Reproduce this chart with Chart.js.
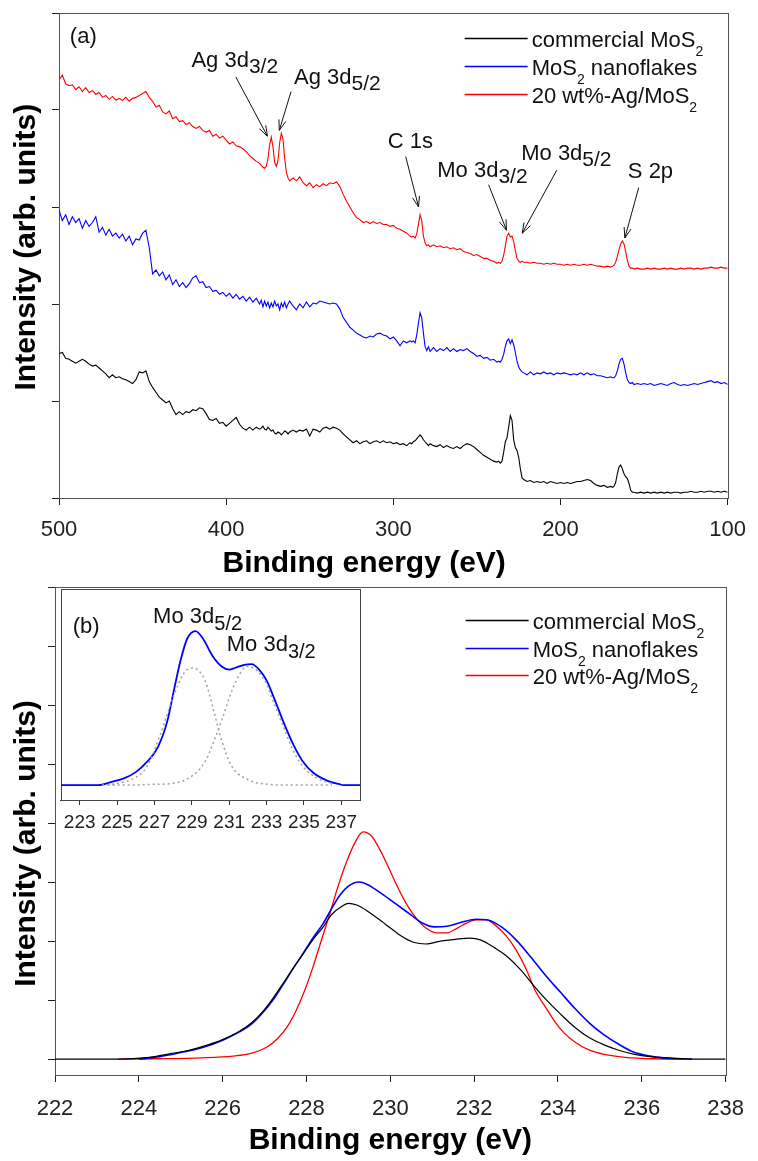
<!DOCTYPE html>
<html>
<head>
<meta charset="utf-8">
<title>XPS spectra of MoS2 samples</title>
<script src="https://cdn.jsdelivr.net/npm/chart.js@4.4.0/dist/chart.umd.min.js"></script>
<style>
  html, body { margin: 0; padding: 0; background: #fff; }
  #figure { position: relative; width: 758px; height: 1161px; }
  #figure canvas { position: absolute; }
  #survey { left: 0; top: 0; }
  #mo3d { left: 0; top: 580px; }
  #inset { left: 58px; top: 589px; }
</style>
</head>
<body>
<div id="figure">
  <canvas id="survey" width="758" height="580"></canvas>
  <canvas id="mo3d" width="758" height="581"></canvas>
  <canvas id="inset" width="305" height="250"></canvas>
</div>
<script>
const FONT = '"Liberation Sans", Arial, Helvetica, sans-serif';

// ---------- (a) survey scan ----------
const surveyEnergy = [
  500, 498, 496, 494, 492, 490, 488, 486, 484, 482,
  480, 478, 476, 474, 472, 470, 468, 466, 464, 462,
  460, 458, 456, 454, 452, 450, 448, 446, 444, 442,
  440, 438, 436, 434, 432, 430, 428, 426, 424, 422,
  420, 418, 416, 414, 412, 410, 408, 406, 404, 402,
  400, 398, 396, 394, 392, 390, 388, 386, 384, 382,
  380,
  379, 378, 377, 376, 375, 374, 373, 372, 371, 370, 369, 368, 367, 366, 365, 364, 363, 362,
  360, 358, 356, 354, 352, 350, 348, 346, 344, 342,
  340, 338, 336, 334, 332, 330, 328, 326, 324, 322,
  320, 318, 316, 314, 312, 310, 308, 306, 304, 302,
  300, 298, 296, 294, 292, 290,
  289, 288, 287, 286, 285, 284, 283, 282, 281, 280, 279, 278,
  276, 274, 272, 270, 268, 266, 264, 262, 260, 258,
  256, 254, 252, 250, 248, 246, 244, 242, 240, 238,
  237, 236, 235, 234, 233, 232, 231, 230, 229, 228, 227, 226, 225, 224, 223, 222,
  220, 218, 216, 214, 212, 210, 208, 206, 204, 202,
  200, 198, 196, 194, 192, 190, 188, 186, 184, 182,
  180, 178, 176, 174, 172, 170,
  169, 168, 167, 166, 165, 164, 163, 162, 161, 160, 159, 158, 157, 156,
  154, 152, 150, 148, 146, 144, 142, 140, 138, 136,
  134, 132, 130, 128, 126, 124, 122, 120, 118, 116,
  114, 112, 110, 108, 106, 104, 102, 100
];

const surveyCommercial = [
  1.49, 1.50, 1.44, 1.43, 1.41, 1.39, 1.41, 1.43, 1.41, 1.38,
  1.36, 1.37, 1.34, 1.31, 1.28, 1.24, 1.27, 1.24, 1.25, 1.23,
  1.22, 1.20, 1.18, 1.22, 1.30, 1.29, 1.31, 1.20, 1.14, 1.09,
  1.04, 1.01, 0.98, 1.00, 0.92, 0.86, 0.89, 0.86, 0.89, 0.88,
  0.91, 0.90, 0.93, 0.92, 0.87, 0.81, 0.80, 0.82, 0.77, 0.78,
  0.74, 0.77, 0.80, 0.83, 0.76, 0.72, 0.70, 0.73, 0.70, 0.73,
  0.71,
  0.72, 0.74, 0.71, 0.70, 0.73, 0.71, 0.69, 0.70, 0.67, 0.66, 0.68, 0.67, 0.65, 0.67, 0.69, 0.68, 0.66, 0.68,
  0.70, 0.68, 0.70, 0.69, 0.71, 0.64, 0.71, 0.70, 0.68, 0.72,
  0.73, 0.71, 0.73, 0.72, 0.70, 0.66, 0.63, 0.60, 0.57, 0.59,
  0.56, 0.58, 0.59, 0.56, 0.58, 0.59, 0.57, 0.59, 0.57, 0.58,
  0.56, 0.57, 0.55, 0.56, 0.54, 0.57,
  0.56, 0.58, 0.59, 0.61, 0.63, 0.65, 0.63, 0.60, 0.58, 0.56, 0.54, 0.56,
  0.54, 0.53, 0.55, 0.52, 0.54, 0.52, 0.51, 0.53, 0.51, 0.54,
  0.56, 0.55, 0.53, 0.50, 0.47, 0.44, 0.42, 0.40, 0.38, 0.37,
  0.38, 0.36, 0.38, 0.47, 0.58, 0.62, 0.73, 0.85, 0.80, 0.60, 0.52, 0.49, 0.42, 0.30, 0.21, 0.19,
  0.17, 0.18, 0.16, 0.17, 0.16, 0.17, 0.15, 0.17, 0.16, 0.15,
  0.16, 0.15, 0.16, 0.15, 0.16, 0.17, 0.17, 0.18, 0.19, 0.18,
  0.15, 0.13, 0.12, 0.13, 0.11, 0.12,
  0.11, 0.12, 0.16, 0.25, 0.32, 0.34, 0.30, 0.25, 0.22, 0.20, 0.15, 0.08, 0.06, 0.06,
  0.05, 0.06, 0.05, 0.06, 0.05, 0.06, 0.05, 0.06, 0.05, 0.06,
  0.05, 0.06, 0.06, 0.05, 0.06, 0.06, 0.07, 0.06, 0.06, 0.07,
  0.06, 0.07, 0.07, 0.06, 0.07, 0.06, 0.07, 0.06
];

const surveyNanoflakes = [
  2.97, 2.86, 2.92, 2.82, 2.90, 2.84, 2.88, 2.78, 2.86, 2.80,
  2.84, 2.90, 2.74, 2.79, 2.71, 2.77, 2.70, 2.73, 2.68, 2.72,
  2.65, 2.70, 2.61, 2.67, 2.66, 2.73, 2.76, 2.58, 2.31, 2.35,
  2.29, 2.33, 2.25, 2.30, 2.20, 2.25, 2.18, 2.22, 2.17, 2.21,
  2.27, 2.29, 2.22, 2.23, 2.17, 2.18, 2.13, 2.14, 2.10, 2.12,
  2.08, 2.11, 2.06, 2.10, 2.05, 2.08, 2.03, 2.07, 2.02, 2.06,
  2.00,
  2.04, 1.97, 2.03, 1.98, 2.02, 1.96, 2.01, 1.97, 2.03, 1.98, 2.00, 1.94, 2.01, 1.97, 2.02, 1.96, 2.00, 2.03,
  1.98, 1.94, 2.00, 1.96, 2.02, 1.97, 2.01, 2.00, 2.03, 2.02,
  2.01, 2.00, 2.01, 2.00, 1.95, 1.86, 1.81, 1.76, 1.73, 1.70,
  1.68, 1.66, 1.65, 1.67, 1.66, 1.69, 1.70, 1.68, 1.67, 1.64,
  1.66, 1.62, 1.57, 1.62, 1.60, 1.62,
  1.61, 1.62, 1.60, 1.68, 1.80, 1.91, 1.86, 1.70, 1.56, 1.52, 1.56, 1.51,
  1.55, 1.51, 1.54, 1.52, 1.55, 1.51, 1.54, 1.51, 1.53, 1.52,
  1.54, 1.51, 1.49, 1.46, 1.47, 1.44, 1.45, 1.42, 1.43, 1.40,
  1.41, 1.40, 1.43, 1.48, 1.56, 1.62, 1.64, 1.59, 1.63, 1.58, 1.50, 1.41, 1.35, 1.32, 1.30, 1.29,
  1.27, 1.30, 1.27, 1.29, 1.28, 1.30, 1.28, 1.29, 1.27, 1.29,
  1.28, 1.29, 1.28, 1.27, 1.28, 1.27, 1.29, 1.27, 1.29, 1.27,
  1.28, 1.26, 1.26, 1.25, 1.24, 1.25,
  1.24, 1.24, 1.26, 1.31, 1.38, 1.43, 1.44, 1.38, 1.29, 1.22, 1.19, 1.18, 1.19, 1.17,
  1.18, 1.17, 1.18, 1.17, 1.18, 1.16, 1.17, 1.18, 1.17, 1.16,
  1.18, 1.19, 1.17, 1.16, 1.17, 1.16, 1.17, 1.18, 1.17, 1.18,
  1.19, 1.20, 1.21, 1.19, 1.20, 1.18, 1.19, 1.17
];

const surveyAgMoS2 = [
  4.31, 4.36, 4.27, 4.25, 4.26, 4.21, 4.24, 4.19, 4.23, 4.18,
  4.20, 4.16, 4.18, 4.13, 4.15, 4.11, 4.14, 4.10, 4.12, 4.10,
  4.13, 4.09, 4.12, 4.13, 4.15, 4.17, 4.19, 4.13, 4.09, 4.03,
  4.05, 3.98, 3.96, 3.99, 3.91, 3.93, 3.88, 3.89, 3.85, 3.87,
  3.83, 3.81, 3.83, 3.79, 3.77, 3.79, 3.73, 3.75, 3.71, 3.73,
  3.69, 3.65, 3.67, 3.63, 3.62, 3.60, 3.57, 3.53, 3.50, 3.47,
  3.45,
  3.43, 3.41, 3.40, 3.42, 3.50, 3.64, 3.72, 3.62, 3.46, 3.42, 3.48, 3.66, 3.76, 3.70, 3.50, 3.36, 3.30, 3.27,
  3.30, 3.27, 3.31, 3.25, 3.22, 3.25, 3.20, 3.23, 3.21, 3.24,
  3.22, 3.25, 3.24, 3.26, 3.21, 3.13, 3.06, 3.00, 2.94, 2.89,
  2.87, 2.84, 2.85, 2.83, 2.85, 2.83, 2.84, 2.82, 2.82, 2.80,
  2.81, 2.78, 2.77, 2.75, 2.73, 2.70,
  2.69, 2.70, 2.68, 2.72, 2.82, 2.92, 2.86, 2.70, 2.63, 2.60, 2.61, 2.59,
  2.61, 2.59, 2.60, 2.58, 2.59, 2.57, 2.58, 2.56, 2.57, 2.54,
  2.53, 2.52, 2.50, 2.51, 2.49, 2.47, 2.47, 2.45, 2.44, 2.42,
  2.43, 2.42, 2.44, 2.50, 2.60, 2.70, 2.73, 2.69, 2.70, 2.64, 2.55, 2.47, 2.44, 2.43, 2.44, 2.43,
  2.43, 2.42, 2.43, 2.42, 2.42, 2.41, 2.42, 2.41, 2.42, 2.41,
  2.41, 2.40, 2.41, 2.40, 2.41, 2.40, 2.40, 2.41, 2.40, 2.41,
  2.40, 2.39, 2.39, 2.38, 2.39, 2.38,
  2.39, 2.40, 2.43, 2.49, 2.56, 2.62, 2.65, 2.62, 2.54, 2.45, 2.39, 2.37, 2.37, 2.36,
  2.37, 2.36, 2.36, 2.37, 2.36, 2.37, 2.36, 2.36, 2.37, 2.36,
  2.37, 2.36, 2.36, 2.37, 2.36, 2.37, 2.37, 2.36, 2.37, 2.36,
  2.37, 2.37, 2.38, 2.37, 2.37, 2.38, 2.37, 2.37
];

const surveyTicksX = [500, 400, 300, 200, 100];
const surveyTicksY = [0, 1, 2, 3, 4, 5];

// ---------- (b) Mo 3d region ----------
const mo3dCommercialE = [
  222, 223, 223.5, 224.25, 224.7, 225.2, 225.65, 226.0, 226.4, 226.7,
  226.95, 227.2, 227.45, 227.65, 227.9, 228.15, 228.4, 228.6, 228.85, 229.0,
  229.2, 229.45, 229.8, 230.0, 230.25, 230.55, 230.85, 231.2, 231.55, 231.9,
  232.15, 232.5, 232.75, 233.1, 233.45, 233.7, 234.05, 234.4, 234.75, 235.1,
  235.45, 235.8, 236.2, 236.65, 237.25, 238
];
const mo3dCommercialI = [
  0, 0, 0, 0.03, 0.085, 0.15, 0.24, 0.33, 0.47, 0.62,
  0.80, 1.03, 1.29, 1.51, 1.76, 2.02, 2.24, 2.45, 2.59, 2.64,
  2.61, 2.51, 2.33, 2.22, 2.09, 1.98, 1.95, 2.00, 2.03, 2.05,
  2.02, 1.88, 1.76, 1.52, 1.22, 1.02, 0.77, 0.54, 0.36, 0.24,
  0.15, 0.085, 0.04, 0.02, 0, 0
];

const mo3dNanoflakesE = [
  224.0, 224.5, 225.0, 225.5, 226.0, 226.4, 226.7, 226.95, 227.2, 227.45,
  227.65, 227.9, 228.15, 228.4, 228.6, 228.8, 229.0, 229.25, 229.45, 229.8,
  230.15, 230.5, 230.75, 231.05, 231.35, 231.7, 232.05, 232.3, 232.65, 233.0,
  233.35, 233.7, 234.05, 234.4, 234.75, 235.1, 235.45, 235.8, 236.2, 236.5,
  236.85, 237.2
];
const mo3dNanoflakesI = [
  0, 0.04, 0.11, 0.19, 0.32, 0.46, 0.60, 0.78, 1.00, 1.27,
  1.50, 1.77, 2.05, 2.30, 2.55, 2.78, 2.93, 3.00, 2.96, 2.80,
  2.62, 2.44, 2.31, 2.24, 2.25, 2.32, 2.37, 2.36, 2.24, 2.02,
  1.73, 1.42, 1.14, 0.86, 0.61, 0.41, 0.25, 0.12, 0.05, 0.02,
  0.005, 0
];

const mo3dAgMoS2E = [
  223.5, 224.5, 225.5, 226.25, 226.7, 227.05, 227.3, 227.55, 227.75, 227.95,
  228.15, 228.35, 228.55, 228.75, 228.95, 229.15, 229.35, 229.55, 229.75, 229.95,
  230.15, 230.4, 230.65, 230.85, 231.1, 231.35, 231.6, 231.8, 232.05, 232.3,
  232.5, 232.75, 233.0, 233.25, 233.45, 233.7, 233.95, 234.15, 234.4, 234.75,
  235.1, 235.6, 236.3, 237.0
];
const mo3dAgMoS2I = [
  0, 0.005, 0.02, 0.05, 0.10, 0.20, 0.34, 0.56, 0.82, 1.15,
  1.55, 2.00, 2.45, 2.92, 3.33, 3.66, 3.85, 3.78, 3.55, 3.26,
  2.95, 2.61, 2.36, 2.22, 2.14, 2.14, 2.22, 2.30, 2.36, 2.36,
  2.27, 2.10, 1.85, 1.51, 1.17, 0.88, 0.61, 0.44, 0.29, 0.15,
  0.08, 0.03, 0.005, 0
];

const mo3dTicksX = [222, 224, 226, 228, 230, 232, 234, 236, 238];
const mo3dTicksY = [0, 1, 2, 3, 4, 5, 6, 7, 8];

// ---------- inset: nanoflakes with fitted components ----------
const insetE = [
  222, 224.0, 224.7, 225.4, 226.0, 226.6, 227.2, 227.7, 228.05, 228.4,
  228.75, 229.2, 229.6, 230.1, 230.6, 231.0, 231.3, 231.8, 232.2, 232.6,
  233.0, 233.4, 233.9, 234.4, 234.9, 235.5, 236.3, 236.9, 237.1, 238
];
const insetI = [
  0, 0, 0.02, 0.045, 0.084, 0.15, 0.25, 0.42, 0.62, 0.81,
  0.95, 1.00, 0.95, 0.84, 0.77, 0.75, 0.76, 0.78, 0.785, 0.75,
  0.68, 0.565, 0.41, 0.27, 0.16, 0.08, 0.026, 0.006, 0, 0
];
const fit52E = [224.2, 225.0, 226.0, 226.6, 227.35, 228.0, 228.6, 229.05, 229.7, 230.2, 230.6, 231.1, 232.1, 233.1, 234.0, 235.0, 236.5];
const fit52I = [0, 0.01, 0.05, 0.12, 0.34, 0.57, 0.73, 0.76, 0.68, 0.47, 0.29, 0.13, 0.03, 0.005, 0, 0, 0];
const fit32E = [224.5, 226.0, 227.0, 227.9, 228.9, 229.7, 230.2, 230.6, 231.2, 231.97, 232.9, 233.4, 233.9, 234.4, 234.95, 235.7, 236.5];
const fit32I = [0, 0, 0.005, 0.01, 0.05, 0.15, 0.29, 0.42, 0.63, 0.77, 0.68, 0.53, 0.38, 0.23, 0.12, 0.045, 0.01];
const insetTicksX = [223, 225, 227, 229, 231, 233, 235, 237];

// legend entries (text parts, 'sub' = subscript)
const seriesNames = [
  [['commercial MoS', ''], ['2', 'sub']],
  [['MoS', ''], ['2', 'sub'], [' nanoflakes', '']],
  [['20 wt%-Ag/MoS', ''], ['2', 'sub']]
];
const seriesColors = ['#000000', '#0000ff', '#ff0000'];

// peak labels for (a), anchored in data units
const surveyNotes = [
  { parts: [['(a)', '']], at: [493.5, 4.69] },
  { parts: [['Ag 3d', ''], ['3/2', 'sub']], at: [420.8, 4.44], from: [394.2, 4.34], to: [375.3, 3.73] },
  { parts: [['Ag 3d', ''], ['5/2', 'sub']], at: [359.4, 4.27], from: [361.2, 4.19], to: [368.2, 3.79] },
  { parts: [['C 1s', '']], at: [303.3, 3.61], from: [292.6, 3.52], to: [284.9, 3.0] },
  { parts: [['Mo 3d', ''], ['3/2', 'sub']], at: [273.7, 3.31], from: [243.0, 3.23], to: [232.3, 2.76] },
  { parts: [['Mo 3d', ''], ['5/2', 'sub']], at: [223.5, 3.48], from: [202.2, 3.38], to: [222.9, 2.73] },
  { parts: [['S 2p', '']], at: [159.7, 3.30], from: [153.2, 3.2], to: [161.5, 2.68] }
];
const insetNotes = [
  { parts: [['(b)', '']], at: [222.63, 0.99] },
  { parts: [['Mo 3d', ''], ['5/2', 'sub']], at: [226.93, 1.05] },
  { parts: [['Mo 3d', ''], ['3/2', 'sub']], at: [230.87, 0.87] }
];

// ---------- helpers ----------
function pts(xs, ys) {
  return xs.map((x, i) => ({ x: x, y: ys[i] }));
}

function fixedTicks(values) {
  return scale => { scale.ticks = values.map(v => ({ value: v })); };
}

function drawRich(ctx, parts, x, y, size, subSize, drop) {
  let cx = x;
  parts.forEach(([text, kind]) => {
    const sub = kind === 'sub';
    ctx.font = (sub ? subSize : size) + 'px ' + FONT;
    ctx.fillText(text, cx, sub ? y + drop : y);
    cx += ctx.measureText(text).width;
  });
}

function drawArrow(ctx, x1, y1, x2, y2) {
  const ang = Math.atan2(y2 - y1, x2 - x1);
  const len = 11, spread = 0.33;
  ctx.beginPath();
  ctx.moveTo(x1, y1);
  ctx.lineTo(x2, y2);
  ctx.moveTo(x2 - len * Math.cos(ang - spread), y2 - len * Math.sin(ang - spread));
  ctx.lineTo(x2, y2);
  ctx.lineTo(x2 - len * Math.cos(ang + spread), y2 - len * Math.sin(ang + spread));
  ctx.stroke();
}

// box around the plot area
function makeFrame(color) {
  return {
    id: 'frame',
    beforeDatasetsDraw(chart) {
      const { ctx, chartArea: a } = chart;
      ctx.save();
      ctx.strokeStyle = color;
      ctx.lineWidth = 1;
      ctx.strokeRect(Math.round(a.left) + 0.5, Math.round(a.top) + 0.5,
        Math.round(a.right - a.left), Math.round(a.bottom - a.top));
      ctx.restore();
    }
  };
}

// legend with subscripts, drawn in the top right of the plot area
function makeLegend(top, step, endFromRight) {
  return {
    id: 'richLegend',
    afterDatasetsDraw(chart) {
      const { ctx, chartArea: a } = chart;
      ctx.save();
      seriesNames.forEach((parts, i) => {
        const y = Math.round(a.top + top + i * step) + 0.5;
        const x2 = a.right - endFromRight;
        ctx.strokeStyle = seriesColors[i];
        ctx.lineWidth = 1.5;
        ctx.beginPath();
        ctx.moveTo(x2 - 63, y);
        ctx.lineTo(x2, y);
        ctx.stroke();
        ctx.fillStyle = '#111';
        ctx.textBaseline = 'alphabetic';
        drawRich(ctx, parts, x2 + 4, y + 8, 22, 14, 9);
      });
      ctx.restore();
    }
  };
}

// text labels (and arrows) positioned through the chart scales
function makeNotes(notes, size, subSize, drop) {
  return {
    id: 'notes',
    afterDatasetsDraw(chart) {
      const { ctx, scales: { x, y } } = chart;
      ctx.save();
      ctx.fillStyle = '#111';
      ctx.strokeStyle = '#111';
      ctx.lineWidth = 1;
      ctx.textBaseline = 'alphabetic';
      notes.forEach(n => {
        drawRich(ctx, n.parts, x.getPixelForValue(n.at[0]), y.getPixelForValue(n.at[1]), size, subSize, drop);
        if (n.from) {
          drawArrow(ctx,
            x.getPixelForValue(n.from[0]), y.getPixelForValue(n.from[1]),
            x.getPixelForValue(n.to[0]), y.getPixelForValue(n.to[1]));
        }
      });
      ctx.restore();
    }
  };
}

function xAxis(min, max, ticks, height, padding, titleText, titlePad, reverse) {
  return {
    type: 'linear', min: min, max: max, reverse: !!reverse,
    afterBuildTicks: fixedTicks(ticks),
    afterFit: s => { s.height = height; },
    grid: { drawOnChartArea: false, drawTicks: true, tickLength: 7, color: '#222', lineWidth: 1 },
    border: { display: true, color: '#222', width: 1 },
    ticks: { color: '#222', font: { family: FONT, size: 22 }, padding: padding, maxRotation: 0, autoSkip: false },
    title: {
      display: true, text: titleText, color: '#000',
      font: { family: FONT, size: 30, weight: 'bold' }, padding: { top: 0, bottom: titlePad }
    }
  };
}

function yAxis(min, max, ticks, width, titleText) {
  return {
    min: min, max: max,
    afterBuildTicks: fixedTicks(ticks),
    afterFit: s => { s.width = width; },
    grid: { drawOnChartArea: false, drawTicks: true, tickLength: 7, color: '#222', lineWidth: 1 },
    border: { display: true, color: '#222', width: 1 },
    ticks: { display: false },
    title: {
      display: true, text: titleText, color: '#000',
      font: { family: FONT, size: 30, weight: 'bold' }, padding: { top: 9, bottom: 0 }
    }
  };
}

function line(data, color, width, smooth) {
  return {
    data: data, borderColor: color, borderWidth: width, pointRadius: 0,
    fill: false, tension: 0, cubicInterpolationMode: smooth ? 'monotone' : 'default'
  };
}

const common = {
  responsive: false, animation: false, events: [],
  plugins: { legend: { display: false }, tooltip: { enabled: false } }
};

// ---------- chart (a) ----------
// trailing / leading spaces nudge the centred titles like in the original figure
new Chart(document.getElementById('survey'), {
  type: 'line',
  data: {
    datasets: [
      line(pts(surveyEnergy, surveyCommercial), seriesColors[0], 1.1, false),
      line(pts(surveyEnergy, surveyNanoflakes), seriesColors[1], 1.1, false),
      line(pts(surveyEnergy, surveyAgMoS2), seriesColors[2], 1.1, false)
    ]
  },
  options: {
    ...common,
    layout: { padding: { top: 13, right: 22, left: 0, bottom: 0 } },
    scales: {
      x: xAxis(100, 500, surveyTicksX, 82, 12, 'Binding energy (eV)       ', -2, true),
      y: yAxis(0, 5, surveyTicksY, 59, '  Intensity (arb. units)')
    }
  },
  plugins: [makeFrame('#555'), makeLegend(25, 28, 200), makeNotes(surveyNotes, 22, 21, 6)]
});

// ---------- chart (b) ----------
new Chart(document.getElementById('mo3d'), {
  type: 'line',
  data: {
    datasets: [
      line(pts(mo3dCommercialE, mo3dCommercialI), seriesColors[0], 1.2, true),
      line(pts(mo3dNanoflakesE, mo3dNanoflakesI), seriesColors[1], 1.6, true),
      line(pts(mo3dAgMoS2E, mo3dAgMoS2I), seriesColors[2], 1.3, true)
    ]
  },
  options: {
    ...common,
    layout: { padding: { top: 7, right: 26, left: 0, bottom: 0 } },
    scales: {
      x: xAxis(222, 238, mo3dTicksX, 86, 14, 'Binding energy (eV)', 2, false),
      y: yAxis(-0.27, 8, mo3dTicksY, 55, 'Intensity (arb. units)   ')
    }
  },
  plugins: [makeFrame('#555'), makeLegend(33, 27.5, 197)]
});

// ---------- inset ----------
const fitStyle = { borderColor: '#a0a0a0', borderWidth: 1.5, borderDash: [2, 3] };
new Chart(document.getElementById('inset'), {
  type: 'line',
  data: {
    datasets: [
      { ...line(pts(fit52E, fit52I), '#a0a0a0', 1.5, true), ...fitStyle },
      { ...line(pts(fit32E, fit32I), '#a0a0a0', 1.5, true), ...fitStyle },
      line(pts(insetE, insetI), seriesColors[1], 1.8, true)
    ]
  },
  options: {
    ...common,
    layout: { padding: 0 },
    scales: {
      x: {
        type: 'linear', min: 222, max: 238,
        afterBuildTicks: fixedTicks(insetTicksX),
        afterFit: s => { s.height = 39; },
        grid: { drawOnChartArea: false, drawTicks: true, tickLength: 5, color: '#333', lineWidth: 1 },
        border: { display: true, color: '#333', width: 1 },
        ticks: { color: '#222', font: { family: FONT, size: 19 }, padding: 6, maxRotation: 0, autoSkip: false }
      },
      y: { display: false, min: -0.097, max: 1.273 }
    }
  },
  plugins: [makeFrame('#444'), makeNotes(insetNotes, 22, 20, 7)]
});
</script>
</body>
</html>
